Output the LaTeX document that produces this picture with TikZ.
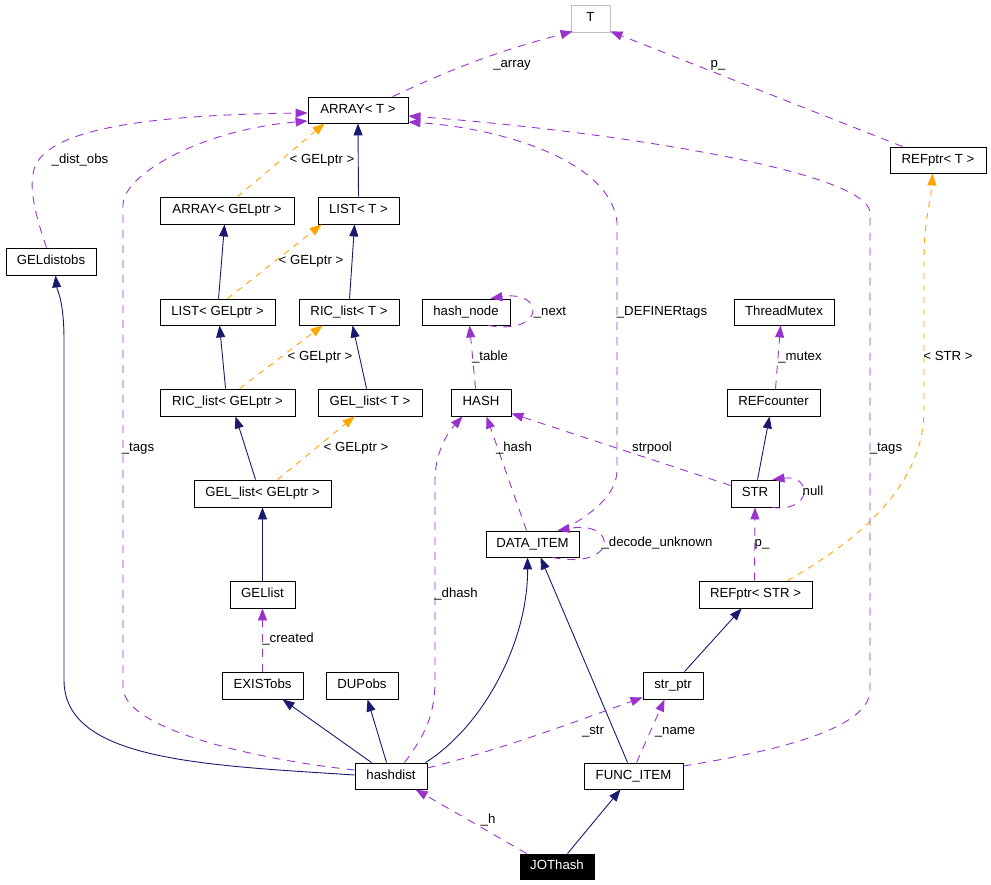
\documentclass[tikz,border=0pt]{standalone}
\usepackage{fontspec}
\setmainfont{Liberation Sans}
\usetikzlibrary{arrows.meta,calc}
\definecolor{inhcol}{HTML}{191970}
\definecolor{usecol}{HTML}{9A32CD}
\definecolor{tplcol}{HTML}{FFA500}
\definecolor{graycol}{HTML}{BFBFBF}
\begin{document}
\begin{tikzpicture}[x=1pt,y=-1pt,
  font=\fontsize{13.2}{15}\selectfont,
  box/.style={draw=black,line width=0.9pt,inner sep=0pt,fill=white,text height=9.5pt,text depth=2.7pt},
  lbl/.style={inner sep=0pt,text height=9.5pt,text depth=2.7pt},
  tip/.style={-{Triangle[length=12pt,width=9pt]}},
  inh/.style={tip,draw=inhcol,line width=0.9pt},
  use/.style={tip,draw=usecol,line width=0.9pt,dash pattern=on 8pt off 7pt},
  tpl/.style={tip,draw=tplcol,line width=0.9pt,dash pattern=on 6pt off 6pt}]
\useasboundingbox (0,0) rectangle (991,885);
% nodes
\node[box,draw=graycol,minimum width=39,minimum height=27] (T) at (590.5,18.5) {T};
\node[box,minimum width=100,minimum height=26] (arrT) at (358,110) {ARRAY< T >};
\node[box,minimum width=134,minimum height=27] (arrG) at (227,210.5) {ARRAY< GELptr >};
\node[box,minimum width=81,minimum height=27] (listT) at (358.5,210.5) {LIST< T >};
\node[box,minimum width=90,minimum height=27] (gdo) at (51,261.5) {GELdistobs};
\node[box,minimum width=96,minimum height=26] (refT) at (938,160) {REFptr< T >};
\node[box,minimum width=115,minimum height=26] (listG) at (217.5,312) {LIST< GELptr >};
\node[box,minimum width=100,minimum height=26] (ricT) at (349,312) {RIC\_list< T >};
\node[box,minimum width=88,minimum height=26] (hn) at (466,312) {hash\_node};
\node[box,minimum width=100,minimum height=26] (tm) at (784,312) {ThreadMutex};
\node[box,minimum width=135,minimum height=27] (ricG) at (227.5,402.5) {RIC\_list< GELptr >};
\node[box,minimum width=104,minimum height=27] (gelT) at (370,402.5) {GEL\_list< T >};
\node[box,minimum width=60,minimum height=27] (hash) at (481,402.5) {HASH};
\node[box,minimum width=93,minimum height=27] (refc) at (773.5,402.5) {REFcounter};
\node[box,minimum width=137,minimum height=27] (gelG) at (262.5,493.5) {GEL\_list< GELptr >};
\node[box,minimum width=48,minimum height=27] (str) at (755,493.5) {STR};
\node[box,minimum width=93,minimum height=26] (di) at (532.5,544) {DATA\_ITEM};
\node[box,minimum width=65,minimum height=27] (gell) at (262.5,594.5) {GELlist};
\node[box,minimum width=113,minimum height=27] (refS) at (755.5,594.5) {REFptr< STR >};
\node[box,minimum width=81,minimum height=27] (exist) at (262.5,685.5) {EXISTobs};
\node[box,minimum width=72,minimum height=27] (dup) at (362,685.5) {DUPobs};
\node[box,minimum width=60,minimum height=27] (sp) at (673,685.5) {str\_ptr};
\node[box,minimum width=72,minimum height=26] (hd) at (391,776) {hashdist};
\node[box,minimum width=99,minimum height=26] (fi) at (633.5,776) {FUNC\_ITEM};
\node[box,fill=black,text=white,minimum width=74,minimum height=25] (jo) at (557,866.5) {JOThash};
% inheritance
\draw[inh] (listT.north) -- (arrT.south);
\draw[inh] ($(listG.north west)+(59,0)$) -- ($(arrG.south west)+(65,0)$);
\draw[inh] ($(ricT.north west)+(51,0)$) -- ($(listT.south west)+(37,0)$);
\draw[inh] ($(ricG.north west)+(66,0)$) -- ($(listG.south west)+(60,0)$);
\draw[inh] ($(gelT.north west)+(49,0)$) -- ($(ricT.south west)+(54,0)$);
\draw[inh] ($(gelG.north west)+(62,0)$) -- ($(ricG.south west)+(76,0)$);
\draw[inh] (gell.north) -- (gelG.south);
\draw[inh] ($(hd.north west)+(17,0)$) -- ($(exist.south west)+(61,0)$);
\draw[inh] ($(hd.north west)+(32,0)$) -- ($(dup.south west)+(42,0)$);
\draw[inh] ($(hd.west)+(0,-1)$) .. controls (200,765) and (64,760) .. (64,680) -- (64,340) .. controls (64,300) and (57,290) .. ($(gdo.south west)+(50,0)$);
\draw[inh] ($(hd.north east)+(-2,0)$) .. controls (485,725) and (528,640) .. ($(di.south west)+(42,0)$);
\draw[inh] ($(fi.north west)+(44,0)$) -- ($(di.south west)+(55,0)$);
\draw[inh] ($(str.north west)+(27,0)$) -- ($(refc.south west)+(43,0)$);
\draw[inh] ($(sp.north west)+(42,0)$) -- ($(refS.south west)+(43,0)$);
\draw[inh] ($(jo.north west)+(48,0)$) -- ($(fi.south west)+(37,0)$);
% templates
\draw[tpl] ($(arrG.north west)+(78,0)$) -- ($(arrT.south west)+(17,0)$);
\draw[tpl] ($(listG.north west)+(68,0)$) -- ($(listT.south west)+(4,0)$);
\draw[tpl] ($(ricG.north west)+(80,0)$) -- ($(ricT.south west)+(24,0)$);
\draw[tpl] ($(gelG.north west)+(84,0)$) -- ($(gelT.south west)+(37,0)$);
\draw[tpl] ($(refS.north west)+(89,0)$) .. controls (850,545) and (924,490) .. (924,410) -- (924,260) .. controls (924,220) and (931,200) .. ($(refT.south west)+(43,0)$);
% usage
\draw[use] ($(arrT.north west)+(85,0)$) to[bend left=5] ($(T.south west)+(2,-1)$);
\draw[use] ($(refT.north west)+(13,0)$) -- ($(T.south east)+(0,-1)$);
\draw[use] ($(gdo.north west)+(41,0)$) .. controls (35,215) and (30,190) .. (33,175) .. controls (36,135) and (120,115) .. ($(arrT.west)+(0,3)$);
\draw[use] ($(hd.west)+(0,-6)$) .. controls (260,760) and (123,730) .. (123,687) -- (123,205) .. controls (123,175) and (200,130) .. ($(arrT.west)+(0,11)$);
\draw[use] ($(di.north west)+(77,0)$) .. controls (580,520) and (617,500) .. (617,470) -- (617,222) .. controls (610,160) and (500,128) .. ($(arrT.east)+(0,12)$);
\draw[use] ($(fi.east)+(0,-10)$) .. controls (770,752) and (870,730) .. (870,690) -- (870,212) .. controls (865,170) and (600,130) .. ($(arrT.east)+(0,6)$);
\draw[use] ($(hn.south east)+(-22,0)$) .. controls ($(hn.south east)+(35,10)$) and ($(hn.north east)+(35,-9)$) .. ($(hn.north east)+(-20,0)$);
\draw[use] ($(hash.north west)+(25,0)$) -- ($(hn.south west)+(48,0)$);
\draw[use] ($(str.west)+(0,-8)$) -- ($(hash.south east)+(0,-3)$);
\draw[use] ($(di.north west)+(41,0)$) -- ($(hash.south west)+(36,0)$);
\draw[use] ($(hd.north west)+(50,0)$) .. controls (425,735) and (435,715) .. (435,680) -- (435,480) .. controls (435,450) and (450,430) .. ($(hash.south west)+(12,0)$);
\draw[use] ($(di.south west)+(67,0)$) .. controls ($(di.south east)+(39,13)$) and ($(di.north east)+(39,-11)$) .. ($(di.north west)+(72,0)$);
\draw[use] ($(refc.north west)+(49,0)$) -- ($(tm.south west)+(47,0)$);
\draw[use] ($(str.south east)+(-7,0)$) .. controls ($(str.south east)+(33,5)$) and ($(str.north east)+(33,-5)$) .. ($(str.north east)+(-7,0)$);
\draw[use] ($(refS.north west)+(56,0)$) -- (str.south);
\draw[use] (exist.north) -- (gell.south);
\draw[use] ($(hd.east)+(0,-8)$) .. controls (500,750) and (580,720) .. ($(sp.south west)+(0,-2)$);
\draw[use] ($(fi.north west)+(53,0)$) -- ($(sp.south west)+(22,0)$);
\draw[use] ($(jo.north west)+(7,0)$) -- ($(hd.south west)+(61,0)$);
% labels
\node[lbl] (l1) at (512,64) {\_array};
\node[lbl] (l2) at (718,64) {p\_};
\node[lbl] (l3) at (80,160) {\_dist\_obs};
\node[lbl] (l4) at (322,160) {< GELptr >};
\node[lbl] (l5) at (311,261) {< GELptr >};
\node[lbl] (l6) at (320,357) {< GELptr >};
\node[lbl] (l7) at (356,448) {< GELptr >};
\node[lbl] (l8) at (138,448) {\_tags};
\node[lbl] (l9) at (490,357) {\_table};
\node[lbl] (l10) at (550,312) {\_next};
\node[lbl] (l11) at (662,312) {\_DEFINERtags};
\node[lbl] (l12) at (800,357) {\_mutex};
\node[lbl] (l13) at (948,357) {< STR >};
\node[lbl] (l14) at (514,448) {\_hash};
\node[lbl] (l15) at (652,448) {strpool};
\node[lbl] (l16) at (886,448) {\_tags};
\node[lbl] (l17) at (813,492) {null};
\node[lbl] (l18) at (657,543) {\_decode\_unknown};
\node[lbl] (l19) at (762,543) {p\_};
\node[lbl] (l20) at (456,594) {\_dhash};
\node[lbl] (l21) at (288,639) {\_created};
\node[lbl] (l22) at (593,731) {\_str};
\node[lbl] (l23) at (675,731) {\_name};
\node[lbl] (l24) at (488,820) {\_h};
\end{tikzpicture}
\end{document}
